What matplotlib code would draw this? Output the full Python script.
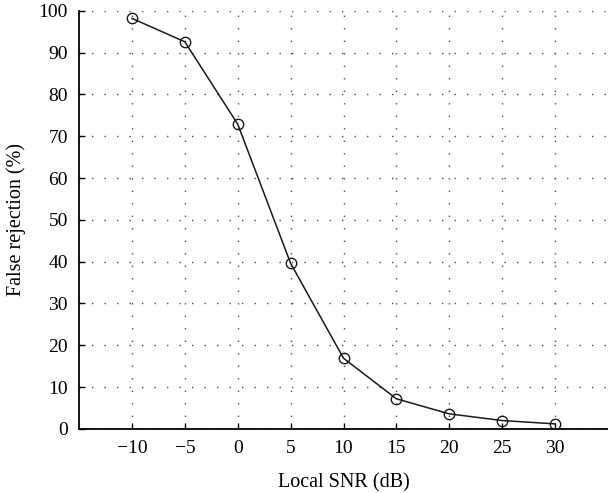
import matplotlib
matplotlib.use("Agg")
import matplotlib.pyplot as plt

snr = [-10, -5, 0, 5, 10, 15, 20, 25, 30]
false_rejection = [98.2, 92.6, 72.9, 39.6, 16.9, 7.2, 3.6, 2.0, 1.2]
xticks = [-10, -5, 0, 5, 10, 15, 20, 25, 30]
yticks = [0, 10, 20, 30, 40, 50, 60, 70, 80, 90, 100]

plt.rcParams['font.family'] = ['Liberation Serif', 'DejaVu Serif']
plt.rcParams['axes.unicode_minus'] = True

fig = plt.figure(figsize=(6.08, 4.93), dpi=100)
ax = fig.add_axes([0.130, 0.130, 0.870, 0.848])

ax.plot(snr, false_rejection, color='#1a1a1a', linewidth=1.1,
        marker='o', markersize=7.5, markerfacecolor='none',
        markeredgecolor='#1a1a1a', markeredgewidth=1.0, zorder=3)

ax.set_xlim(-15, 35)
ax.set_ylim(0, 100)
ax.set_xticks(xticks)
ax.set_yticks(yticks)
ax.grid(True, color='#4d4d4d', linestyle=(0, (1, 8)), linewidth=1.0)

for side in ['top', 'right']:
    ax.spines[side].set_visible(False)
for side in ['left', 'bottom']:
    ax.spines[side].set_linewidth(1.3)

ax.tick_params(direction='in', length=4, width=1, labelsize=14, pad=8)
ax.set_xlabel("Local SNR (dB)", fontsize=14.5, labelpad=12)
ax.set_ylabel("False rejection (%)", fontsize=14.5, labelpad=9)

fig.savefig("out.png", dpi=100)
